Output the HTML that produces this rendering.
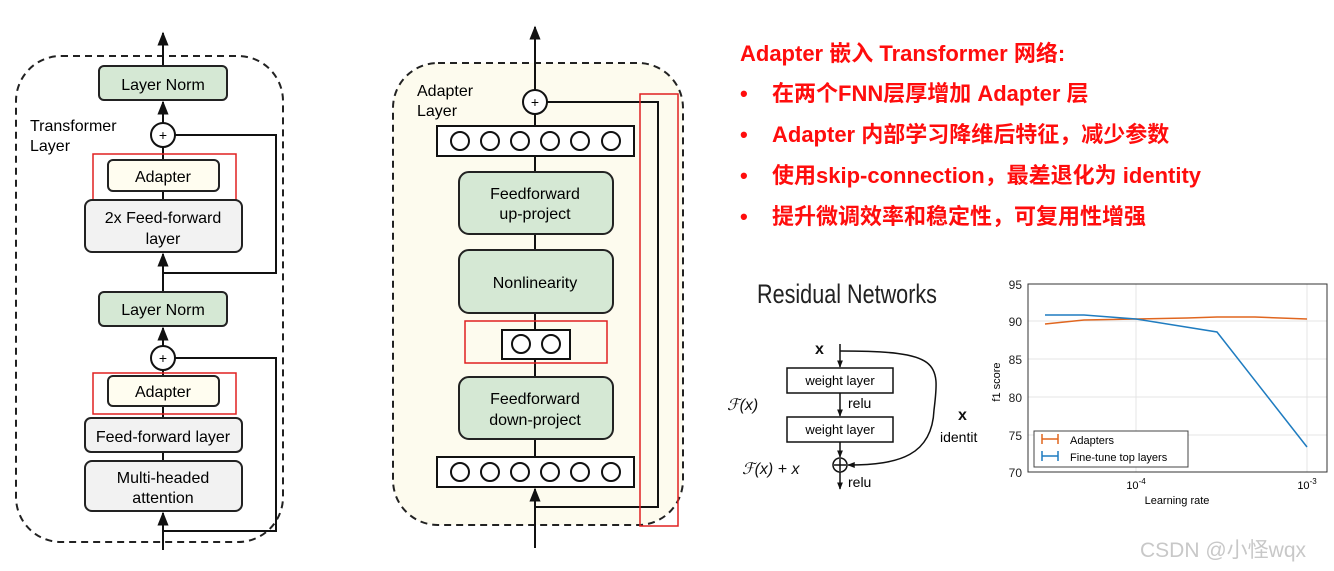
<!DOCTYPE html>
<html><head><meta charset="utf-8"><style>
html,body{margin:0;padding:0;background:#fff}
svg{display:block}
text{font-family:"Liberation Sans","Noto Sans CJK SC",sans-serif}
</style></head><body>
<svg width="1334" height="571" viewBox="0 0 1334 571" xmlns="http://www.w3.org/2000/svg">
<defs>
<marker id="ah" viewBox="0 0 10 10" refX="9" refY="5" markerWidth="7" markerHeight="7" orient="auto"><path d="M0,1 L10,5 L0,9 z" fill="#111"/></marker>
<marker id="ah2" viewBox="0 0 10 10" refX="9" refY="5" markerWidth="5" markerHeight="5" orient="auto"><path d="M0,1 L10,5 L0,9 z" fill="#111"/></marker>
</defs>
<rect width="1334" height="571" fill="#fff"/>

<!-- LEFT: Transformer layer -->
<rect x="16" y="56" width="267" height="486" rx="45" fill="none" stroke="#222" stroke-width="2" stroke-dasharray="7,5"/>
<g stroke="#111" stroke-width="2" fill="none">
<line x1="163" y1="66" x2="163" y2="33" marker-end="url(#ah)"/>
<line x1="163" y1="123" x2="163" y2="102" marker-end="url(#ah)"/>
<line x1="163" y1="147" x2="163" y2="160"/>
<line x1="163" y1="191" x2="163" y2="200"/>
<line x1="163" y1="292" x2="163" y2="254" marker-end="url(#ah)"/>
<polyline points="175,135 276,135 276,273 163,273"/>
<line x1="163" y1="346" x2="163" y2="328" marker-end="url(#ah)"/>
<line x1="163" y1="370" x2="163" y2="376"/>
<line x1="163" y1="405" x2="163" y2="418"/>
<line x1="163" y1="452" x2="163" y2="461"/>
<line x1="163" y1="550" x2="163" y2="513" marker-end="url(#ah)"/>
<polyline points="175,358 276,358 276,531 163,531"/>
</g>
<rect x="99" y="66" width="128" height="34" rx="5" fill="#d5e8d4" stroke="#222" stroke-width="2"/>
<text x="163" y="90" font-size="16" text-anchor="middle">Layer Norm</text>
<circle cx="163" cy="135" r="12" fill="#fff" stroke="#111" stroke-width="2"/>
<text x="163" y="140" font-size="14" text-anchor="middle">+</text>
<text x="30" y="131" font-size="16">Transformer</text>
<text x="30" y="151" font-size="16">Layer</text>
<rect x="108" y="160" width="111" height="31" rx="5" fill="#fffdf0" stroke="#222" stroke-width="2"/>
<text x="163" y="182" font-size="16" text-anchor="middle">Adapter</text>
<rect x="93" y="154" width="143" height="46" fill="none" stroke="#e02020" stroke-width="1.5"/>
<rect x="85" y="200" width="157" height="52" rx="7" fill="#f2f2f2" stroke="#222" stroke-width="2"/>
<text x="163" y="223" font-size="16" text-anchor="middle">2x Feed-forward</text>
<text x="163" y="244" font-size="16" text-anchor="middle">layer</text>
<rect x="99" y="292" width="128" height="34" rx="5" fill="#d5e8d4" stroke="#222" stroke-width="2"/>
<text x="163" y="315" font-size="16" text-anchor="middle">Layer Norm</text>
<circle cx="163" cy="358" r="12" fill="#fff" stroke="#111" stroke-width="2"/>
<text x="163" y="363" font-size="14" text-anchor="middle">+</text>
<rect x="108" y="376" width="111" height="30" rx="5" fill="#fffdf0" stroke="#222" stroke-width="2"/>
<text x="163" y="397" font-size="16" text-anchor="middle">Adapter</text>
<rect x="93" y="373" width="143" height="41" fill="none" stroke="#e02020" stroke-width="1.5"/>
<rect x="85" y="418" width="157" height="34" rx="6" fill="#f2f2f2" stroke="#222" stroke-width="2"/>
<text x="163" y="442" font-size="16" text-anchor="middle">Feed-forward layer</text>
<rect x="85" y="461" width="157" height="50" rx="7" fill="#f2f2f2" stroke="#222" stroke-width="2"/>
<text x="163" y="483" font-size="16" text-anchor="middle">Multi-headed</text>
<text x="163" y="503" font-size="16" text-anchor="middle">attention</text>

<!-- MIDDLE: Adapter layer -->
<rect x="393" y="63" width="290" height="462" rx="45" fill="#fdfbee" stroke="#222" stroke-width="2" stroke-dasharray="7,5"/>
<g stroke="#111" stroke-width="2" fill="none">
<line x1="535" y1="90" x2="535" y2="27" marker-end="url(#ah)"/>
<line x1="535" y1="114" x2="535" y2="126"/>
<line x1="535" y1="156" x2="535" y2="172"/>
<line x1="535" y1="234" x2="535" y2="250"/>
<line x1="535" y1="313" x2="535" y2="330"/>
<line x1="535" y1="359" x2="535" y2="377"/>
<line x1="535" y1="439" x2="535" y2="457"/>
<line x1="535" y1="548" x2="535" y2="489" marker-end="url(#ah)"/>
<polyline points="547,102 658,102 658,507 535,507"/>
</g>
<text x="417" y="96" font-size="16">Adapter</text>
<text x="417" y="116" font-size="16">Layer</text>
<circle cx="535" cy="102" r="12" fill="#fff" stroke="#111" stroke-width="2"/>
<text x="535" y="107" font-size="14" text-anchor="middle">+</text>
<rect x="437" y="126" width="197" height="30" fill="#fff" stroke="#111" stroke-width="2"/>
<g fill="none" stroke="#111" stroke-width="2">
<circle cx="460" cy="141" r="9"/><circle cx="490" cy="141" r="9"/><circle cx="520" cy="141" r="9"/><circle cx="550" cy="141" r="9"/><circle cx="580" cy="141" r="9"/><circle cx="611" cy="141" r="9"/>
</g>
<rect x="459" y="172" width="154" height="62" rx="10" fill="#d5e8d4" stroke="#222" stroke-width="2"/>
<text x="535" y="199" font-size="16" text-anchor="middle">Feedforward</text>
<text x="535" y="219" font-size="16" text-anchor="middle">up-project</text>
<rect x="459" y="250" width="154" height="63" rx="10" fill="#d5e8d4" stroke="#222" stroke-width="2"/>
<text x="535" y="288" font-size="16" text-anchor="middle">Nonlinearity</text>
<rect x="502" y="330" width="68" height="29" fill="#fff" stroke="#111" stroke-width="2"/>
<circle cx="521" cy="344" r="9" fill="none" stroke="#111" stroke-width="2"/>
<circle cx="551" cy="344" r="9" fill="none" stroke="#111" stroke-width="2"/>
<rect x="465" y="321" width="142" height="42" fill="none" stroke="#e02020" stroke-width="1.5"/>
<rect x="459" y="377" width="154" height="62" rx="10" fill="#d5e8d4" stroke="#222" stroke-width="2"/>
<text x="535" y="404" font-size="16" text-anchor="middle">Feedforward</text>
<text x="535" y="425" font-size="16" text-anchor="middle">down-project</text>
<rect x="437" y="457" width="197" height="30" fill="#fff" stroke="#111" stroke-width="2"/>
<g fill="none" stroke="#111" stroke-width="2">
<circle cx="460" cy="472" r="9"/><circle cx="490" cy="472" r="9"/><circle cx="520" cy="472" r="9"/><circle cx="550" cy="472" r="9"/><circle cx="580" cy="472" r="9"/><circle cx="611" cy="472" r="9"/>
</g>
<rect x="640" y="94" width="38" height="432" fill="none" stroke="#e02020" stroke-width="1.5"/>

<!-- RIGHT TEXT -->
<g fill="#ff0d0d" font-size="22" font-weight="bold">
<text x="740" y="61">Adapter 嵌入 Transformer 网络:</text>
<text x="740" y="101">•</text><text x="772" y="101">在两个FNN层厚增加 Adapter 层</text>
<text x="740" y="142">•</text><text x="772" y="142">Adapter 内部学习降维后特征，减少参数</text>
<text x="740" y="183">•</text><text x="772" y="183">使用skip-connection，最差退化为 identity</text>
<text x="740" y="224">•</text><text x="772" y="224">提升微调效率和稳定性，可复用性增强</text>
</g>

<!-- Residual networks -->
<text x="757" y="303" font-size="27" fill="#222" transform="translate(757,0) scale(0.8,1) translate(-757,0)">Residual Networks</text>
<g stroke="#111" stroke-width="1.5" fill="none">
<line x1="840" y1="344" x2="840" y2="367" marker-end="url(#ah2)"/>
<line x1="840" y1="393" x2="840" y2="416" marker-end="url(#ah2)"/>
<line x1="840" y1="442" x2="840" y2="457" marker-end="url(#ah2)"/>
<line x1="840" y1="472" x2="840" y2="489" marker-end="url(#ah2)"/>
<path d="M840,351 C940,351 940,362 934,410 C932,455 900,465 848,465" marker-end="url(#ah2)"/>
<circle cx="840" cy="465" r="7"/>
<line x1="834" y1="465" x2="846" y2="465"/><line x1="840" y1="459" x2="840" y2="471"/>
</g>
<rect x="787" y="368" width="106" height="25" fill="#fff" stroke="#111" stroke-width="1.5"/>
<text x="840" y="385" font-size="13" text-anchor="middle">weight layer</text>
<rect x="787" y="417" width="106" height="25" fill="#fff" stroke="#111" stroke-width="1.5"/>
<text x="840" y="434" font-size="13" text-anchor="middle">weight layer</text>
<g font-family="Liberation Serif,serif" font-size="16" fill="#111">
<text x="815" y="354" font-weight="bold">x</text>
<text x="727" y="410" font-style="italic">ℱ(x)</text>
<text x="742" y="474" font-style="italic">ℱ(x) + x</text>
<text x="958" y="420" font-weight="bold">x</text>
</g>
<text x="848" y="408" font-size="14">relu</text>
<text x="848" y="487" font-size="14">relu</text>
<text x="940" y="442" font-size="14">identit</text>

<!-- Chart -->
<g stroke="#e4e4e4" stroke-width="1">
<line x1="1028" y1="321" x2="1327" y2="321"/><line x1="1028" y1="359" x2="1327" y2="359"/>
<line x1="1028" y1="397" x2="1327" y2="397"/><line x1="1028" y1="435" x2="1327" y2="435"/>
<line x1="1136" y1="284" x2="1136" y2="472"/><line x1="1307" y1="284" x2="1307" y2="472"/>
</g>
<rect x="1028" y="284" width="299" height="188" fill="none" stroke="#333" stroke-width="1"/>
<g font-size="12" fill="#222" text-anchor="end">
<text x="1022" y="289">95</text><text x="1022" y="326">90</text><text x="1022" y="364">85</text>
<text x="1022" y="402">80</text><text x="1022" y="440">75</text><text x="1022" y="477">70</text>
</g>
<text x="1136" y="489" font-size="11" text-anchor="middle">10<tspan font-size="8" dy="-5">-4</tspan></text>
<text x="1307" y="489" font-size="11" text-anchor="middle">10<tspan font-size="8" dy="-5">-3</tspan></text>
<text x="1177" y="504" font-size="11" text-anchor="middle">Learning rate</text>
<text x="1000" y="382" font-size="11" text-anchor="middle" transform="rotate(-90 1000 382)">f1 score</text>
<polyline points="1045,324 1084,320 1136,319 1187,318 1217,317 1255,317 1307,319" fill="none" stroke="#e0661f" stroke-width="1.5"/>
<polyline points="1045,315 1084,315 1136,319 1217,332 1307,447" fill="none" stroke="#1f7cc0" stroke-width="1.5"/>
<rect x="1034" y="431" width="154" height="36" fill="#fff" stroke="#444" stroke-width="1"/>
<g stroke-width="1.5" fill="none">
<path d="M1042,434 v10 M1042,439 h16 M1058,434 v10" stroke="#e0661f"/>
<path d="M1042,451 v10 M1042,456 h16 M1058,451 v10" stroke="#1f7cc0"/>
</g>
<text x="1070" y="444" font-size="11">Adapters</text>
<text x="1070" y="461" font-size="11">Fine-tune top layers</text>

<text x="1140" y="557" font-size="21" fill="#c8c8c8">CSDN @小怪wqx</text>
</svg>
</body></html>
